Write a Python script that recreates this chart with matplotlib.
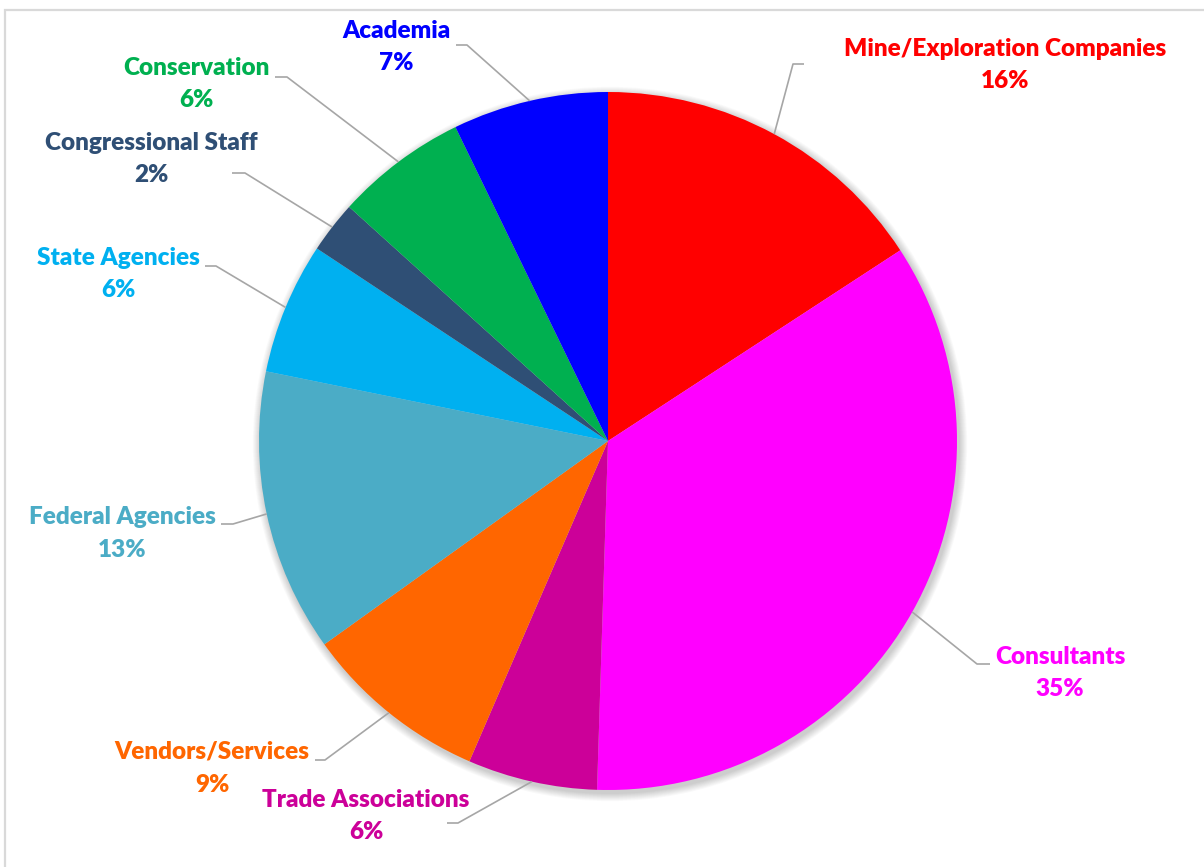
import matplotlib
matplotlib.use("Agg")
import matplotlib.pyplot as plt
import numpy as np
from matplotlib.patches import Rectangle, Circle

# ---- data ----
categories = ["Mine/Exploration Companies", "Consultants", "Trade Associations",
              "Vendors/Services", "Federal Agencies", "State Agencies",
              "Congressional Staff", "Conservation", "Academia"]
shares = [15.8, 34.7, 6.0, 8.6, 13.1, 6.1, 2.4, 6.1, 7.2]
colors = ["#FF0000", "#FF00FF", "#CC0099", "#FF6600", "#4BACC6",
          "#00B0F0", "#2F4F75", "#00B050", "#0000FF"]

# ---- layout (pixel positions, y from top) ----
W, H = 1204, 867
# text centre x, name y, percent y, leader elbow: (x_text_end, x_elbow, y)
label_layout = [
    (1005, 49, 81, (804, 793, 64)),
    (1060, 657, 689, (990, 977, 664)),
    (366, 800, 832, (447, 458, 823)),
    (212, 752, 785, (315, 325, 760)),
    (122, 517, 550, (221, 233, 524)),
    (118, 258, 290, (205, 216, 266)),
    (151, 143, 175, (232, 245, 173)),
    (196, 68, 100, (275, 287, 77)),
    (396, 31, 63, (456, 467, 45)),
]

def Y(py):
    return H - py

plt.rcParams['font.family'] = ['Lato', 'DejaVu Sans']

fig = plt.figure(figsize=(W / 100, H / 100), dpi=100)
ax = fig.add_axes([0, 0, 1, 1])
ax.set_xlim(0, W)
ax.set_ylim(0, H)
ax.set_aspect('equal')
ax.axis('off')

# chart border
ax.add_patch(Rectangle((5, Y(H + 20)), W + 20, (H + 20) - 10, fill=False,
                       edgecolor="#D9D9D9", linewidth=1.6, zorder=0))

cx, cy, R = 608, Y(441), 349

# soft shadow
for k in range(10):
    ax.add_patch(Circle((cx + 2, cy - 3), R + 1 + k * 0.8, facecolor="black",
                        edgecolor="none", alpha=0.018, zorder=1))

wedges, _ = ax.pie(shares, colors=colors, startangle=90, counterclock=False,
                   center=(cx, cy), radius=R, frame=True,
                   wedgeprops=dict(linewidth=0, zorder=2))
ax.set_xlim(0, W)
ax.set_ylim(0, H)
ax.axis('off')

total = sum(shares)
cum = 0.0
for name, val, col, lay in zip(categories, shares, colors, label_layout):
    mid = (cum + val / 2) / total * 2 * np.pi
    cum += val
    ex = cx + R * np.sin(mid)
    ey = cy + R * np.cos(mid)
    tx, ny, py, (hx0, hx1, hy) = lay
    ax.plot([ex, hx1, hx0], [ey, Y(hy), Y(hy)], color="#A6A6A6", lw=1.2,
            zorder=3, solid_capstyle='butt')
    ax.text(tx, Y(ny), name, color=col, fontsize=17.5, fontweight='heavy',
            ha='center', va='center', zorder=4)
    ax.text(tx, Y(py), f"{round(val)}%", color=col, fontsize=17.5,
            fontweight='heavy', ha='center', va='center', zorder=4)

fig.savefig("out.png", dpi=100)
